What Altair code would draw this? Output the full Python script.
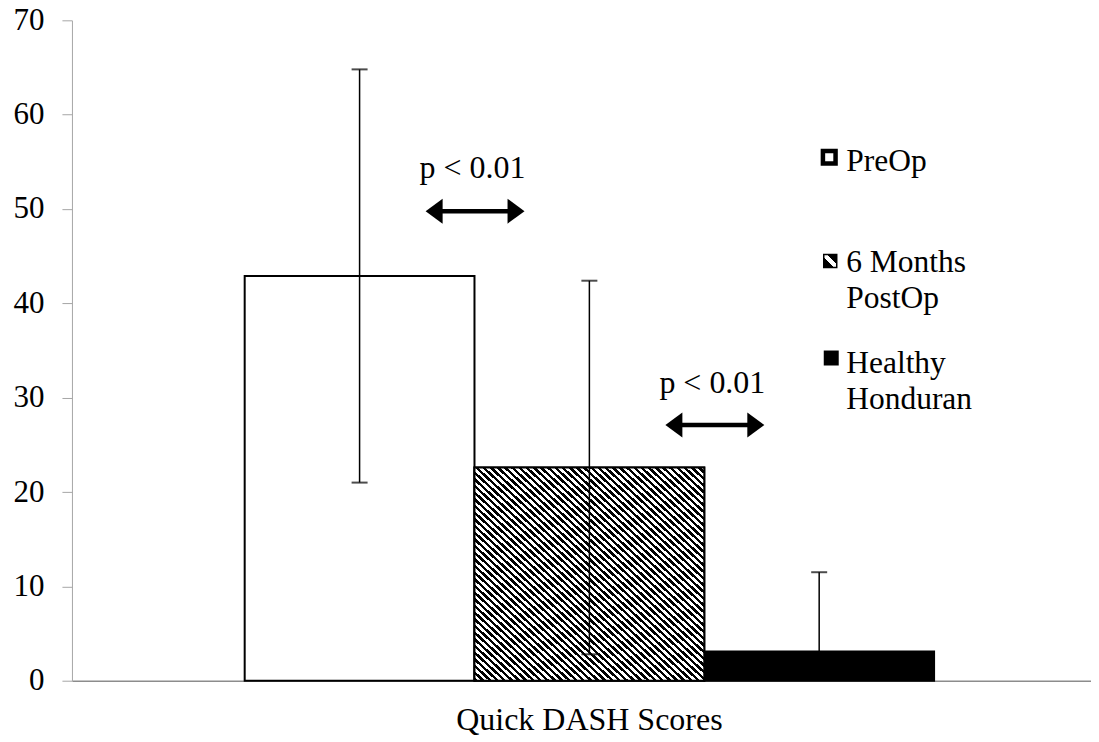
import altair as alt
import pandas as pd

# ---- data ----
groups = ["Quick DASH Scores"]
series = ["PreOp", "6 Months PostOp", "Healthy Honduran"]
means = [42.9, 22.6, 3.1]
errors = [21.9, 19.8, 8.4]

rows = []
for s, m, e in zip(series, means, errors):
    rows.append({
        "group": groups[0],
        "series": s,
        "mean": m,
        "hi": m + e,
        "lo": max(0.0, m - e),
        "has_lo": (m - e) > 0,
    })
df = pd.DataFrame(rows)

FONT = "Liberation Serif"
W, H = 1020, 661

# hatch fill (diagonal stripes) built as a hard-stop linear gradient
N = 64
stops = []
for k in range(N):
    a = round(k / N, 6)
    b = round((k + 0.5) / N, 6)
    c = round((k + 1) / N, 6)
    stops += [
        {"offset": a, "color": "black"},
        {"offset": b, "color": "black"},
        {"offset": b, "color": "white"},
        {"offset": c, "color": "white"},
    ]
hatch = {"gradient": "linear", "x1": 0, "y1": 1, "x2": 1, "y2": 0, "stops": stops}

legend_hatch = {
    "gradient": "linear", "x1": 0, "y1": 1, "x2": 1, "y2": 0,
    "stops": [
        {"offset": 0, "color": "black"},
        {"offset": 0.38, "color": "black"},
        {"offset": 0.38, "color": "white"},
        {"offset": 0.62, "color": "white"},
        {"offset": 0.62, "color": "black"},
        {"offset": 1, "color": "black"},
    ],
}

x_enc = alt.X(
    "group:N",
    scale=alt.Scale(paddingInner=0, paddingOuter=0.2391, align=0.524),
    axis=alt.Axis(title=None, ticks=False, labelAngle=0, labelFont=FONT,
                  labelFontSize=32, labelColor="black", labelPadding=24,
                  labelLimit=0, domainColor="#8c8c8c", domainWidth=1.5),
)
xoff_enc = alt.XOffset("series:N", scale=alt.Scale(domain=series, paddingInner=0, paddingOuter=0))
y_axis = alt.Axis(values=list(range(0, 71, 10)), title=None, grid=False,
                  tickSize=10, tickColor="#a6a6a6", domainColor="#a6a6a6",
                  labelFont=FONT, labelFontSize=31, labelColor="black",
                  labelPadding=18)
y_scale = alt.Scale(domain=[0, 70], nice=False)

base = alt.Chart(df).encode(x=x_enc, xOffset=xoff_enc)

bars = base.mark_bar(stroke="black", strokeWidth=2).encode(
    y=alt.Y("mean:Q", scale=y_scale, axis=y_axis),
    fill=alt.Fill("series:N", scale=alt.Scale(domain=series, range=["white", "white", "black"]), legend=None),
)
hatched = base.transform_filter(alt.datum.series == series[1]).mark_bar(
    fill=hatch, stroke="black", strokeWidth=2
).encode(y=alt.Y("mean:Q"))

err_rule = base.mark_rule(color="black", strokeWidth=1.5).encode(y="lo:Q", y2="hi:Q")
cap_hi = base.mark_tick(color="black", thickness=2, size=16).encode(y="hi:Q")
cap_lo = base.transform_filter(alt.datum.has_lo).mark_tick(color="black", thickness=2, size=16).encode(y="lo:Q")

one = pd.DataFrame({"k": [0]})

# annotations: significance arrows and labels (pixel positions in plot area)
ann_texts = ["p < 0.01", "p < 0.01"]
ann = []
arrows = [(354, 453, 191, 401, 158), (594, 693, 405, 641, 373)]
right_head = "M-0.68,-1L0.68,0L-0.68,1Z"
left_head = "M0.68,-1L-0.68,0L0.68,1Z"
for (xl, xr, ya, xt, yt), t in zip(arrows, ann_texts):
    ann.append(alt.Chart(one).mark_rule(color="black", strokeWidth=4.5).encode(
        x=alt.value(xl + 8), x2=alt.value(xr - 8), y=alt.value(ya)))
    ann.append(alt.Chart(one).mark_point(shape=left_head, size=625, filled=True, color="black", opacity=1).encode(
        x=alt.value(xl + 8.5), y=alt.value(ya)))
    ann.append(alt.Chart(one).mark_point(shape=right_head, size=625, filled=True, color="black", opacity=1).encode(
        x=alt.value(xr - 8.5), y=alt.value(ya)))
    ann.append(alt.Chart(one).mark_text(text=t, font=FONT, fontSize=32, color="black",
                                       align="center", baseline="alphabetic").encode(
        x=alt.value(xt), y=alt.value(yt)))

# custom legend
leg = []
leg.append(alt.Chart(one).mark_point(shape="square", size=160, filled=True, fill="white",
                                     stroke="black", strokeWidth=4.5, opacity=1).encode(
    x=alt.value(758), y=alt.value(137)))
leg.append(alt.Chart(one).mark_point(shape="square", size=169, filled=True, fill=legend_hatch,
                                     stroke="black", strokeWidth=1.5, opacity=1).encode(
    x=alt.value(759), y=alt.value(241)))
leg.append(alt.Chart(one).mark_point(shape="square", size=225, filled=True, color="black", opacity=1).encode(
    x=alt.value(760), y=alt.value(338)))
legend_labels = [["PreOp"], ["6 Months", "PostOp"], ["Healthy", "Honduran"]]
legend_y = [151, 251.5, 352.5]
for lab, ly in zip(legend_labels, legend_y):
    leg.append(alt.Chart(one).mark_text(text=lab, font=FONT, fontSize=31.5, color="black",
                                        align="left", baseline="alphabetic", lineHeight=36.5).encode(
        x=alt.value(775), y=alt.value(ly)))

chart = alt.layer(bars, hatched, err_rule, cap_hi, cap_lo, *ann, *leg).properties(
    width=W, height=H,
    autosize=alt.AutoSizeParams(type="none"),
    padding={"left": 64, "top": 12, "right": 0, "bottom": 56},
).configure_view(stroke=None)

chart.save("out.html", embed_options={"renderer": "svg", "actions": False})
